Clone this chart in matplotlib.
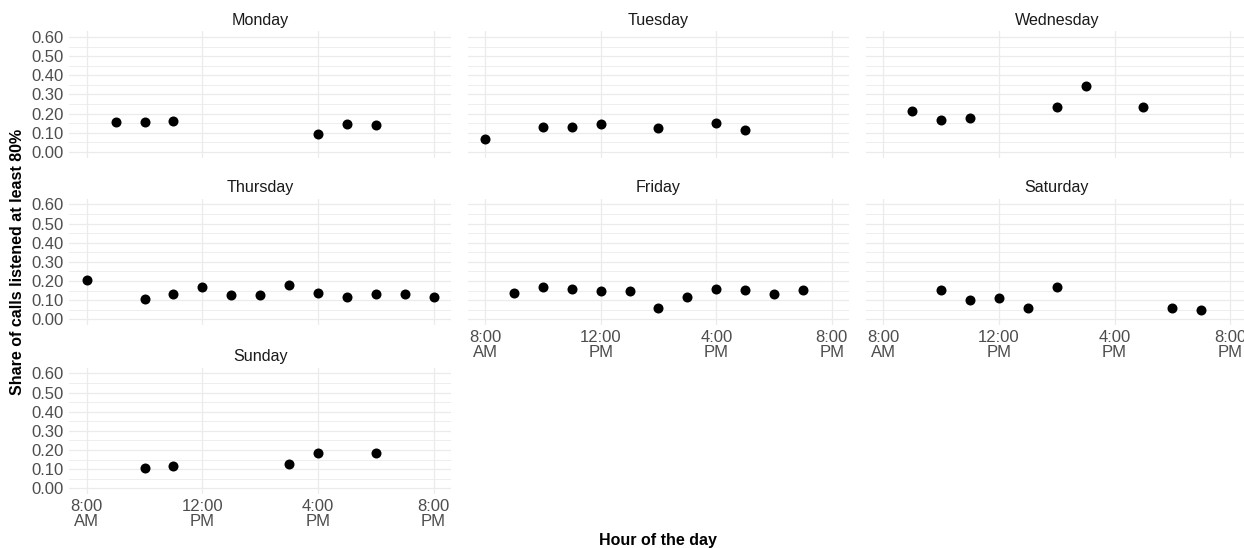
import matplotlib
matplotlib.use("Agg")
import matplotlib.pyplot as plt
from matplotlib.ticker import MultipleLocator, FixedLocator, FuncFormatter

plt.rcParams["font.family"] = ["Liberation Sans", "DejaVu Sans"]

# hour of day (24h) and share of calls listened to at least 80%
days = ["Monday", "Tuesday", "Wednesday", "Thursday", "Friday", "Saturday", "Sunday"]

monday_hours = [9, 10, 11, 16, 17, 18]
monday_share = [0.157, 0.157, 0.160, 0.094, 0.148, 0.139]

tuesday_hours = [8, 10, 11, 12, 14, 16, 17]
tuesday_share = [0.070, 0.129, 0.130, 0.146, 0.125, 0.151, 0.115]

wednesday_hours = [9, 10, 11, 14, 15, 17]
wednesday_share = [0.212, 0.167, 0.176, 0.235, 0.343, 0.235]

thursday_hours = [8, 10, 11, 12, 13, 14, 15, 16, 17, 18, 19, 20]
thursday_share = [0.205, 0.105, 0.132, 0.168, 0.126, 0.128, 0.179, 0.137,
                  0.116, 0.132, 0.132, 0.118]

friday_hours = [9, 10, 11, 12, 13, 14, 15, 16, 17, 18, 19]
friday_share = [0.139, 0.167, 0.156, 0.149, 0.146, 0.061, 0.118, 0.156,
                0.153, 0.130, 0.153]

saturday_hours = [10, 11, 12, 13, 14, 18, 19]
saturday_share = [0.151, 0.102, 0.109, 0.058, 0.168, 0.061, 0.047]

sunday_hours = [10, 11, 15, 16, 18]
sunday_share = [0.107, 0.119, 0.125, 0.182, 0.182]

hour_breaks = [8, 12, 16, 20]
hour_labels = ["8:00\nAM", "12:00\nPM", "4:00\nPM", "8:00\nPM"]

series = {
    "Monday": (monday_hours, monday_share),
    "Tuesday": (tuesday_hours, tuesday_share),
    "Wednesday": (wednesday_hours, wednesday_share),
    "Thursday": (thursday_hours, thursday_share),
    "Friday": (friday_hours, friday_share),
    "Saturday": (saturday_hours, saturday_share),
    "Sunday": (sunday_hours, sunday_share),
}

W, H = 1244, 548
fig = plt.figure(figsize=(W / 100, H / 100), dpi=100)

col_left = [69.4, 467.7, 866.0]
row_top = [31.2, 198.6, 367.6]
panel_w, panel_h = 381.5, 126.5
grid_col = "#EBEBEB"

for i, day in enumerate(days):
    r, c = divmod(i, 3)
    ax = fig.add_axes([col_left[c] / W, 1 - (row_top[r] + panel_h) / H,
                       panel_w / W, panel_h / H])
    hours, share = series[day]
    ax.scatter(hours, share, s=52, color="black", zorder=3, linewidths=0)

    ax.set_xlim(7.4, 20.6)
    ax.set_ylim(-0.03, 0.63)
    ax.xaxis.set_major_locator(FixedLocator(hour_breaks))
    ax.yaxis.set_major_locator(MultipleLocator(0.1))
    ax.yaxis.set_minor_locator(MultipleLocator(0.05))
    ax.yaxis.set_major_formatter(FuncFormatter(lambda v, p: f"{v:.2f}"))

    ax.grid(True, which="major", color=grid_col, lw=0.9)
    ax.grid(True, which="minor", axis="y", color=grid_col, lw=0.6)
    ax.set_axisbelow(True)
    for s in ax.spines.values():
        s.set_visible(False)
    ax.tick_params(which="both", length=0, labelsize=12, labelcolor="#4D4D4D")
    ax.tick_params(axis="y", pad=4.2)
    ax.tick_params(axis="x", pad=3.5)

    # x labels only on the bottom panel of each column
    if day in ("Sunday", "Friday", "Saturday"):
        ax.set_xticklabels(hour_labels, linespacing=1.0)
    else:
        ax.set_xticklabels([])
    if c != 0:
        ax.set_yticklabels([])

    ax.set_title(day, fontsize=11.6, color="#1A1A1A", pad=4.5)

fig.text(658 / W, 1 - 541 / H, "Hour of the day", ha="center", va="center",
         fontsize=11.5, fontweight="bold")
fig.text(18 / W, 1 - 262 / H, "Share of calls listened at least 80%",
         ha="center", va="center", rotation=90, fontsize=11.5, fontweight="bold")

fig.savefig("out.png", dpi=100, facecolor="white")
